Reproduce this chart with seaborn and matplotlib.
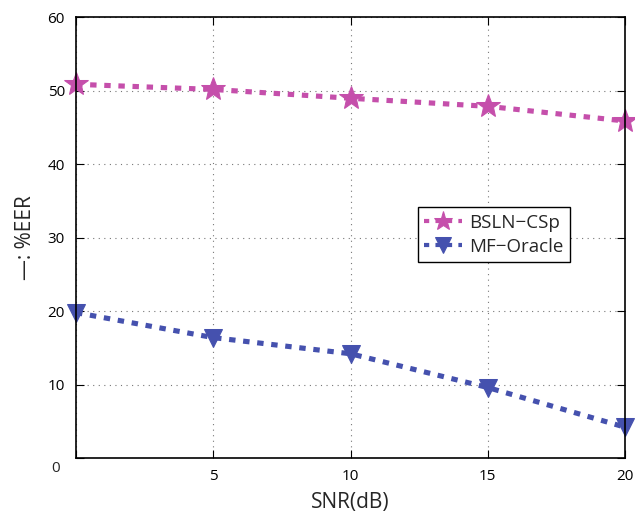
import matplotlib
matplotlib.use("Agg")
import matplotlib.pyplot as plt
import seaborn as sns
import pandas as pd

snr = [0, 5, 10, 15, 20]
bsln_csp = [50.9, 50.2, 49.0, 47.9, 45.9]
mf_oracle = [19.8, 16.4, 14.2, 9.6, 4.2]
series_names = ["BSLN\u2212CSp", "MF\u2212Oracle"]
yticks = [0, 10, 20, 30, 40, 50, 60]
xticks = [0, 5, 10, 15, 20]

sns.set_theme(style="white")
plt.rcParams['font.family'] = ['Open Sans', 'DejaVu Sans']

fig = plt.figure(figsize=(6.35, 5.13), dpi=100)
ax = fig.add_axes([0.1197, 0.1072, 0.8646, 0.8587])

colors = ["#C54FAB", "#4551AE"]
markers = ["*", "v"]
msizes = [18, 13]
for name, vals, c, m, ms in zip(series_names, [bsln_csp, mf_oracle], colors, markers, msizes):
    df = pd.DataFrame({"SNR": snr, "EER": vals})
    sns.lineplot(data=df, x="SNR", y="EER", ax=ax, color=c, marker=m, markersize=ms,
                 markeredgecolor=c, linewidth=3.7, linestyle=(0, (1.25, 1.5)),
                 dash_capstyle="butt", label=name, clip_on=False)

ax.set_xlim(0, 20)
ax.set_ylim(0, 60)
ax.set_xticks(xticks)
ax.set_yticks(yticks)
ax.set_xticklabels([""] + [str(t) for t in xticks[1:]])
ax.set_yticklabels([""] + [str(t) for t in yticks[1:]])
ax.grid(True, color="#777777", linestyle=(0, (1, 4)), linewidth=0.8)
ax.tick_params(direction="in", length=6, width=0.8, colors="black", labelsize=11,
               top=True, right=True, bottom=True, left=True)
ax.tick_params(axis="x", pad=8)
ax.tick_params(axis="y", pad=8)
for s in ax.spines.values():
    s.set_color("black")
    s.set_linewidth(1.2)
ax.text(-0.6, -1.4, "0", ha="right", va="center", fontsize=11, transform=ax.transData)

ax.set_xlabel("SNR(dB)", fontsize=15, labelpad=6)
ax.set_ylabel("\u2014: %EER", fontsize=15, labelpad=8)

leg = ax.legend(loc="upper left", bbox_to_anchor=(0.622, 0.569), fontsize=13.5,
                frameon=True, fancybox=False, edgecolor="black", framealpha=1,
                handlelength=2.0, handletextpad=0.4, borderpad=0.35, labelspacing=0.3,
                borderaxespad=0)
leg.get_frame().set_linewidth(1.0)
for h in leg.legend_handles:
    h.set_linewidth(3)
for l, ms in zip(leg.get_lines(), [14, 11]):
    l.set_markersize(ms)

fig.savefig("out.png", dpi=100)
